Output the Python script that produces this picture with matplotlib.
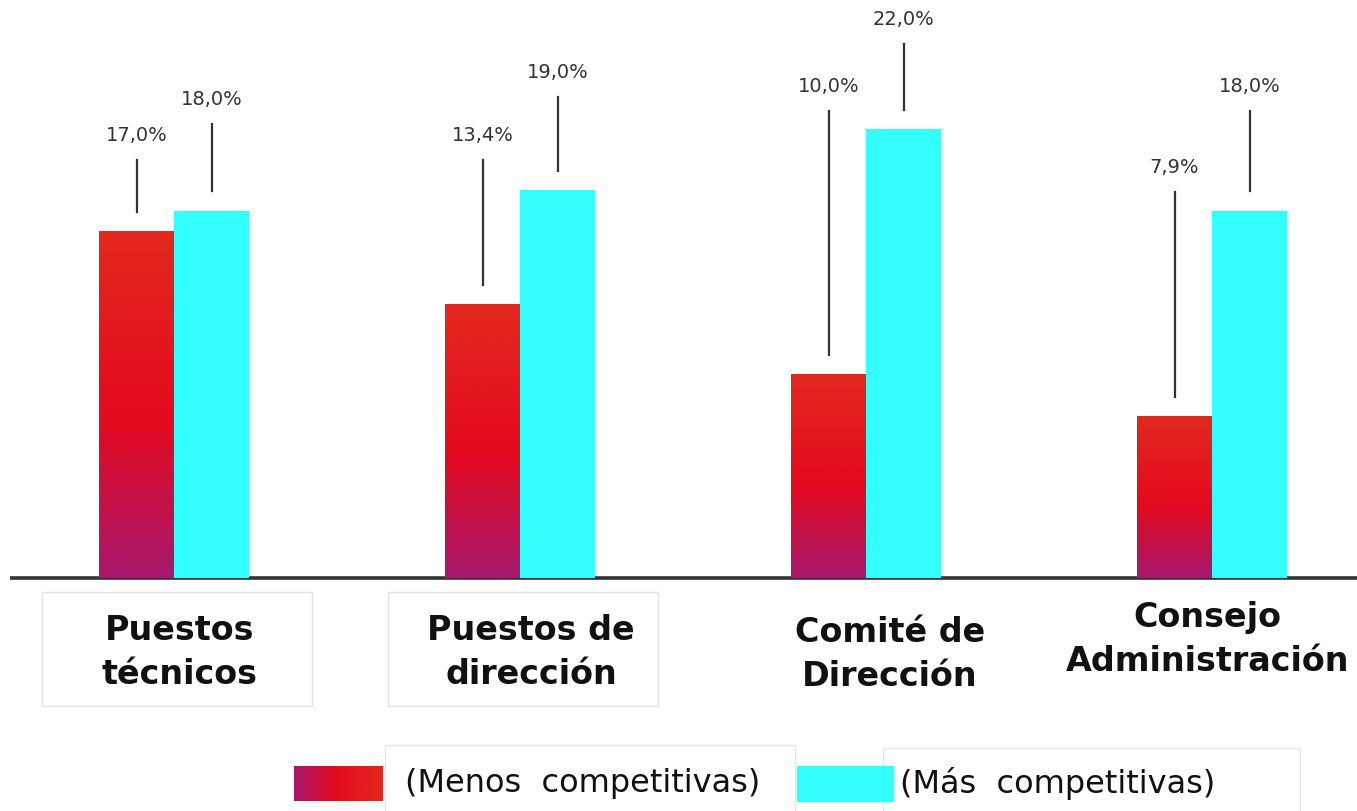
import matplotlib
matplotlib.use("Agg")
import matplotlib.pyplot as plt
import numpy as np
from matplotlib.colors import LinearSegmentedColormap
from matplotlib.patches import Rectangle

plt.rcParams['font.family'] = ['DejaVu Sans']

# data
categories = ["Puestos\ntécnicos", "Puestos de\ndirección", "Comité de\nDirección", "Consejo\nAdministración"]
menos = [17.0, 13.4, 10.0, 7.9]
mas = [18.0, 19.0, 22.0, 18.0]
menos_labels = ["17,0%", "13,4%", "10,0%", "7,9%"]
mas_labels = ["18,0%", "19,0%", "22,0%", "18,0%"]
legend_labels = ["(Menos  competitivas)", "(Más  competitivas)"]

# layout (leader line tops, in % units)
menos_line_top = [20.5, 20.5, 22.9, 18.9]
mas_line_top = [22.25, 23.6, 26.2, 22.9]
cat_dx = [0.017, 0.032, 0.069, -0.014]
cat_y = [-3.65, -3.65, -3.75, -3.0]

cyan = "#33FFFF"
grad = LinearSegmentedColormap.from_list("g", [(0, "#A8186E"), (0.45, "#E30A1E"), (1, "#E3281F")])

fig = plt.figure(figsize=(13.57, 8.11), dpi=100)
ax = fig.add_axes([0, 0, 1, 1])
ax.axis("off")

w = 75/346
x = np.arange(len(categories))

# baseline
ax.plot([(10-174)/346, 3.42], [0, 0], color="#333333", lw=2.6, zorder=1, solid_capstyle="butt")

g = np.linspace(0, 1, 256).reshape(-1, 1)
for i in x:
    # gradient red bar
    ax.imshow(g, cmap=grad, origin="lower", aspect="auto",
              extent=[i - w, i, 0, menos[i]], zorder=2, interpolation="bilinear")
    ax.bar(i + w/2, mas[i], width=w, color=cyan, zorder=2)

    # leader lines and labels
    xr = i - w/2
    ax.plot([xr, xr], [menos[i] + 0.95, menos_line_top[i]], color="#333333", lw=1.6, zorder=3)
    ax.text(xr, menos_line_top[i] + 1.2, menos_labels[i], ha="center", va="center",
            fontsize=14, color="#333333")
    xc = i + w/2
    ax.plot([xc, xc], [mas[i] + 0.95, mas_line_top[i]], color="#333333", lw=1.6, zorder=3)
    ax.text(xc, mas_line_top[i] + 1.2, mas_labels[i], ha="center", va="center",
            fontsize=14, color="#333333")

    ax.text(i + cat_dx[i], cat_y[i], categories[i], ha="center", va="center",
            fontsize=24, fontweight="bold", color="#111111", linespacing=1.42)

# faint boxes around first two category labels
for i in [0, 1]:
    ax.add_patch(Rectangle((i - 132/346, -6.27), 270/346, 5.6, fill=False,
                           edgecolor="#e2e2e2", lw=1, zorder=0))

# legend
lg = np.linspace(0, 1, 256).reshape(1, -1)
ax.imshow(lg, cmap=grad, aspect="auto", extent=[0.347, 0.604, -10.93, -9.22],
          zorder=2, interpolation="bilinear")
ax.add_patch(Rectangle((0.610, -12), 1.185, 3.81, fill=False, edgecolor="#e6e6e6", lw=1, zorder=0))
ax.text(0.668, -10.05, legend_labels[0], ha="left", va="center", fontsize=23, color="#111111")
ax.add_patch(Rectangle((1.80, -10.93), 0.278, 1.71, color=cyan, zorder=2))
ax.add_patch(Rectangle((2.049, -12), 1.205, 3.67, fill=False, edgecolor="#e6e6e6", lw=1, zorder=0))
ax.text(2.098, -10.05, legend_labels[1], ha="left", va="center", fontsize=23, color="#111111")

ax.set_xlim(-174/346, (1357-174)/346)
ax.set_ylim(-233/20.4, 578/20.4)

fig.savefig("out.png", dpi=100)
